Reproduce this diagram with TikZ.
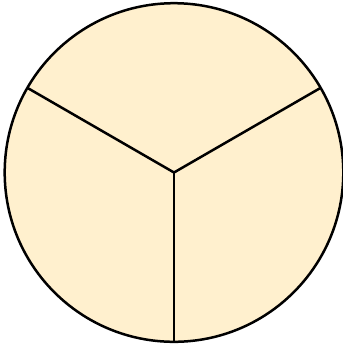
\documentclass[tikz,border=0pt]{standalone}
\begin{document}
\begin{tikzpicture}[x=1pt,y=-1pt]
\definecolor{peach}{RGB}{255,240,206}
\tikzset{edge/.style={line width=2.5pt,black}}
\useasboundingbox (0,0) rectangle (343,349);
\coordinate (c) at (174,172.5);
\fill[peach] (c) circle (169.3);
\draw[edge] (c) -- ++(90:169.3) coordinate (bot);
\draw[edge] (c) -- ++(210:169.3) coordinate (ul);
\draw[edge] (c) -- ++(-30:169.3) coordinate (ur);
\draw[edge] (c) circle (169.3);
\end{tikzpicture}
\end{document}
